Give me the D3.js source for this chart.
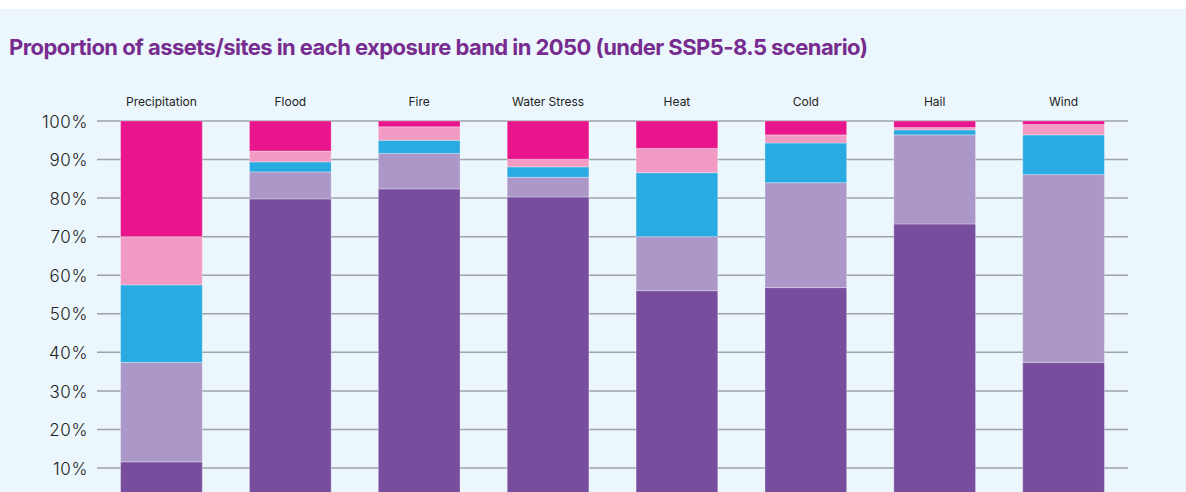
<!DOCTYPE html>
<html>
<head>
<meta charset="utf-8">
<script src="https://cdn.jsdelivr.net/npm/d3@7"></script>
<style>
  html, body { margin: 0; padding: 0; background: #ffffff; overflow: hidden; }
  svg { display: block; }
</style>
</head>
<body>
<svg id="chart" width="1186" height="492"></svg>
<script>
// ---- data ----
const categories = ["Precipitation", "Flood", "Fire", "Water Stress", "Heat", "Cold", "Hail", "Wind"];
const bandNames = ["Band 1", "Band 2", "Band 3", "Band 4", "Band 5"]; // bottom -> top
const band1 = [11.6, 79.8, 82.4, 80.3, 56.0, 56.8, 73.3, 37.4];
const band2 = [25.8,  7.0,  9.2,  5.1, 14.0, 27.2, 23.1, 48.7];
const band3 = [20.1,  2.6,  3.4,  2.7, 16.6, 10.3,  1.3, 10.3];
const band4 = [12.5,  2.8,  3.5,  2.0,  6.3,  2.1,  0.6,  2.7];
const band5 = [30.0,  7.8,  1.5,  9.9,  7.1,  3.6,  1.7,  0.9];
const yTicks = [10, 20, 30, 40, 50, 60, 70, 80, 90, 100];
const bandColors = ["#774E9D", "#AB97C8", "#29ABE2", "#F19BC4", "#E8158C"];
const titleText = "Proportion of assets/sites in each exposure band in 2050 (under SSP5-8.5 scenario)";

// ---- build table ----
const bandArrays = [band1, band2, band3, band4, band5];
const table = categories.map((c, i) => {
  const row = { category: c };
  bandNames.forEach((b, j) => { row[b] = bandArrays[j][i]; });
  return row;
});
const stacked = d3.stack().keys(bandNames)(table);

const svg = d3.select("#chart");
const W = 1186, H = 492;

// background
svg.append("rect").attr("x", 0).attr("y", 0).attr("width", W).attr("height", H).attr("fill", "#ffffff");
svg.append("rect").attr("x", 0).attr("y", 9).attr("width", W).attr("height", H - 9).attr("fill", "#ECF7FD");

// title
const title = svg.append("text")
  .attr("x", 9).attr("y", 55)
  .attr("fill", "#772C8F")
  .style("font-family", "Inter, 'Open Sans', sans-serif")
  .style("font-weight", 700)
  .text(titleText);
(function fitTitle() {
  const target = 859;
  let size = 22;
  title.style("font-size", size + "px").style("letter-spacing", "0px");
  let w = title.node().getComputedTextLength();
  let ls = (target - w) / (titleText.length - 1);
  while (ls < -0.9 && size > 14) {
    size -= 0.5;
    title.style("font-size", size + "px").style("letter-spacing", "0px");
    w = title.node().getComputedTextLength();
    ls = (target - w) / (titleText.length - 1);
  }
  title.style("letter-spacing", ls + "px");
})();

// scales
const x = d3.scaleBand().domain(categories).range([97, 1128]).paddingInner(0.366).paddingOuter(0.183);
const y = d3.scaleLinear().domain([0, 100]).range([506.6, 121]);

// gridlines
svg.append("g")
  .selectAll("line")
  .data(yTicks)
  .join("line")
  .attr("x1", 97).attr("x2", 1128)
  .attr("y1", d => y(d)).attr("y2", d => y(d))
  .attr("stroke", "#9EA3AB")
  .attr("stroke-width", 1.5);

// y axis labels
const yAxis = d3.axisLeft(y).tickValues(yTicks).tickFormat(d => d + "%").tickSize(0).tickPadding(0);
const yg = svg.append("g").attr("transform", "translate(88,0)").call(yAxis);
yg.select(".domain").remove();
yg.selectAll("text")
  .attr("fill", "#222")
  .style("font-family", "Inter, 'Open Sans', sans-serif")
  .style("font-size", "17px")
  .style("font-weight", 300)
  .style("letter-spacing", "0.6px")
  .attr("dy", "0.36em");

// top category labels
const xAxis = d3.axisTop(x).tickSize(0).tickPadding(0);
const xg = svg.append("g").attr("transform", "translate(0,106)").call(xAxis);
xg.select(".domain").remove();
xg.selectAll("text")
  .attr("fill", "#222")
  .style("font-family", "Inter, 'Open Sans', sans-serif")
  .style("font-size", "12px")
  .style("font-weight", 400);

// bars
svg.append("g")
  .selectAll("g")
  .data(stacked)
  .join("g")
  .attr("fill", (d, i) => bandColors[i])
  .selectAll("rect")
  .data(d => d)
  .join("rect")
  .attr("x", d => x(d.data.category))
  .attr("width", x.bandwidth())
  .attr("y", d => y(d[1]))
  .attr("height", d => Math.max(0, y(d[0]) - y(d[1])))
  .attr("stroke", "rgba(255,255,255,0.3)")
  .attr("stroke-width", 1);
</script>
</body>
</html>
